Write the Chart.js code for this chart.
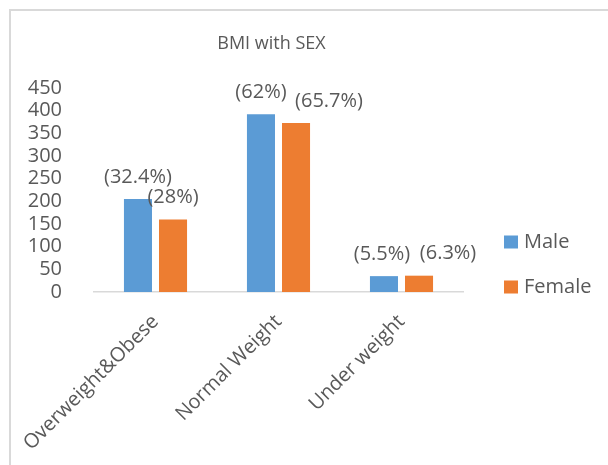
<!DOCTYPE html>
<html>
<head>
<meta charset="utf-8">
<script src="https://cdn.jsdelivr.net/npm/chart.js@4/dist/chart.umd.min.js"></script>
<style>
  html, body { margin: 0; padding: 0; background: #fff; }
  #wrap { position: relative; width: 608px; height: 465px; overflow: hidden; }
  #frame { position: absolute; left: 9px; top: 9px; width: 700px; height: 600px;
           border-left: 2px solid #d9d9d9; border-top: 2px solid #d9d9d9; pointer-events: none; }
  canvas { position: absolute; left: 0; top: 0; }
</style>
</head>
<body>
<div id="wrap">
  <div id="frame"></div>
  <canvas id="bmiChart" width="608" height="465"></canvas>
</div>
<script>
const categories = ["Overweight&Obese", "Normal Weight", "Under weight"];
const maleCounts = [205, 392, 35];
const femaleCounts = [160, 373, 36];
const malePct = ["(32.4%)", "(62%)", "(5.5%)"];
const femalePct = ["(28%)", "(65.7%)", "(6.3%)"];
const yMax = 450;
const yStep = 50;

const textColor = "#595959";
const font = "'Open Sans', sans-serif";

// title, percentage labels and legend drawn by hand to sit where Excel put them
const extras = {
  id: "extras",
  afterDatasetsDraw(chart) {
    const ctx = chart.ctx;
    const area = chart.chartArea;
    ctx.save();
    ctx.fillStyle = textColor;
    ctx.textBaseline = "middle";
    ctx.textAlign = "center";

    ctx.font = "18px " + font;
    ctx.fillText("BMI with SEX", 271.5, 44);

    // percentage labels above bars (some nudged sideways like the original)
    const shifts = [[0, 0, -2], [0, 33, 29]];
    const pcts = [malePct, femalePct];
    ctx.font = "20px " + font;
    chart.data.datasets.forEach((ds, i) => {
      chart.getDatasetMeta(i).data.forEach((bar, j) => {
        ctx.fillText(pcts[i][j], bar.x + shifts[i][j], bar.y - 22);
      });
    });

    // legend
    ctx.textAlign = "left";
    chart.data.datasets.forEach((ds, i) => {
      const y = 242 + i * 45;
      ctx.fillStyle = ds.backgroundColor;
      ctx.fillRect(area.right + 41, y - 6.5, 14, 13);
      ctx.fillStyle = textColor;
      ctx.fillText(ds.label, area.right + 61, y);
    });
    ctx.restore();
  }
};

new Chart(document.getElementById("bmiChart"), {
  type: "bar",
  data: {
    labels: categories,
    datasets: [
      { label: "Male", data: maleCounts, backgroundColor: "#5B9BD5" },
      { label: "Female", data: femaleCounts, backgroundColor: "#ED7D31" }
    ]
  },
  options: {
    responsive: false,
    animation: false,
    devicePixelRatio: 1,
    datasets: { bar: { barPercentage: 0.8, categoryPercentage: 0.57 } },
    layout: { padding: { left: 10, top: 88, right: 145, bottom: 13 } },
    plugins: {
      legend: { display: false },
      title: { display: false },
      tooltip: { enabled: false }
    },
    scales: {
      x: {
        grid: { display: false },
        border: { display: true, color: "#d9d9d9", width: 1.5 },
        ticks: {
          color: textColor,
          font: { family: font, size: 20 },
          minRotation: 45,
          maxRotation: 45,
          padding: 10
        },
        afterFit(s) { s.height = 160; }
      },
      y: {
        min: 0,
        max: yMax,
        grid: { display: false },
        border: { display: false },
        ticks: {
          stepSize: yStep,
          autoSkip: false,
          color: textColor,
          font: { family: font, size: 20 },
          padding: 24
        },
        afterFit(s) { s.width = 84; }
      }
    }
  },
  plugins: [extras]
});
</script>
</body>
</html>
